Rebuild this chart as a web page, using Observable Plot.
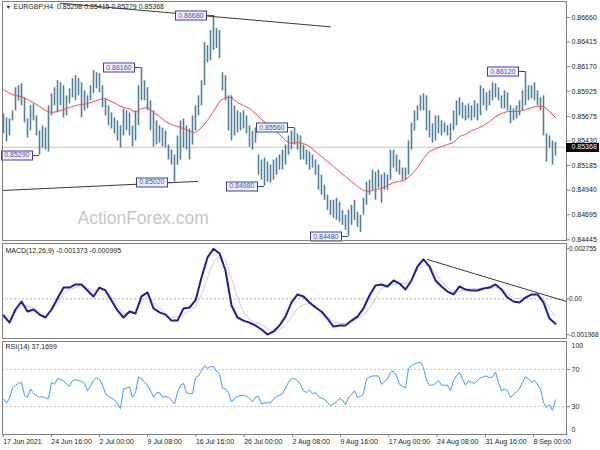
<!DOCTYPE html>
<html><head><meta charset="utf-8">
<script src="https://cdn.jsdelivr.net/npm/d3@7"></script>
<script src="https://cdn.jsdelivr.net/npm/@observablehq/plot@0.6"></script>
<style>
body{margin:0;background:#fff;}
#wrap{position:relative;width:600px;height:450px;overflow:hidden;background:#fff;}
#wrap svg{position:absolute;left:0;}
</style></head><body><div id="wrap"></div>
<script>
// ---------- data ----------
const symbol = "EURGBP,H4";
const lastOHLC = [0.85298, 0.85415, 0.85279, 0.85368];
const macdHeader = ["MACD(12,26,9)", -0.001373, -0.000995];
const rsiHeader = ["RSI(14)", 37.1699];

// H4 bars (one entry per two H4 bars)
const high = [
0.8570,0.8566,0.8565,0.8573,0.8596,0.8598,0.8600,0.8586,0.8565,0.8578,
0.8580,0.8568,0.8553,0.8558,0.8556,0.8578,0.8590,0.8596,0.8603,0.8601,
0.8598,0.8588,0.8595,0.8605,0.8608,0.8605,0.8601,0.8593,0.8588,0.8598,
0.8613,0.8611,0.8610,0.8598,0.8585,0.8578,0.8571,0.8566,0.8563,0.8558,
0.8575,0.8573,0.8571,0.8558,0.8573,0.8598,0.8616,0.8603,0.8596,0.8583,
0.8573,0.8563,0.8558,0.8556,0.8553,0.8539,0.8534,0.8529,0.8548,0.8563,
0.8565,0.8558,0.8555,0.8568,0.8578,0.8588,0.8603,0.8641,0.8638,0.8653,
0.8668,0.8655,0.8653,0.8611,0.8608,0.8588,0.8588,0.8578,0.8573,0.8571,
0.8573,0.8568,0.8558,0.8553,0.8556,0.8529,0.8524,0.8526,0.8522,0.8519,
0.8524,0.8526,0.8529,0.8534,0.8539,0.8548,0.8553,0.8556,0.8550,0.8548,
0.8539,0.8534,0.8532,0.8529,0.8524,0.8519,0.8509,0.8499,0.8489,0.8484,
0.8484,0.8486,0.8482,0.8474,0.8469,0.8474,0.8479,0.8484,0.8472,0.8469,
0.8486,0.8502,0.8504,0.8514,0.8512,0.8514,0.8509,0.8511,0.8509,0.8534,
0.8534,0.8529,0.8524,0.8516,0.8516,0.8543,0.8561,0.8573,0.8578,0.8588,
0.8590,0.8588,0.8573,0.8560,0.8568,0.8568,0.8563,0.8561,0.8558,0.8560,
0.8573,0.8583,0.8586,0.8581,0.8578,0.8580,0.8578,0.8583,0.8580,0.8598,
0.8595,0.8591,0.8593,0.8601,0.8600,0.8596,0.8588,0.8593,0.8591,0.8578,
0.8575,0.8578,0.8583,0.8593,0.8612,0.8598,0.8598,0.8601,0.8593,0.8586,
0.8588,0.8550,0.8548,0.8543,0.85415];
const low = [
0.8550,0.8542,0.8548,0.8563,0.8573,0.8583,0.8578,0.8561,0.8546,0.8553,
0.8563,0.8548,0.8529,0.8536,0.8534,0.8532,0.8568,0.8578,0.8571,0.8578,
0.8566,0.8568,0.8580,0.8586,0.8583,0.8588,0.8566,0.8573,0.8575,0.8583,
0.8590,0.8595,0.8591,0.8576,0.8568,0.8558,0.8555,0.8550,0.8543,0.8536,
0.8548,0.8553,0.8548,0.8537,0.8543,0.8558,0.8583,0.8583,0.8573,0.8553,
0.8537,0.8539,0.8541,0.8537,0.8536,0.8524,0.8519,0.8502,0.8519,0.8524,
0.8536,0.8534,0.8524,0.8539,0.8553,0.8568,0.8578,0.8598,0.8621,0.8623,
0.8633,0.8635,0.8625,0.8593,0.8583,0.8553,0.8543,0.8548,0.8551,0.8553,
0.8555,0.8550,0.8537,0.8534,0.8541,0.8509,0.8504,0.8498,0.8502,0.8501,
0.8504,0.8509,0.8514,0.8514,0.8519,0.8529,0.8534,0.8539,0.8534,0.8524,
0.8524,0.8519,0.8514,0.8516,0.8509,0.8494,0.8489,0.8484,0.8474,0.8469,
0.8466,0.8464,0.8462,0.8459,0.8454,0.8448,0.8459,0.8464,0.8457,0.8452,
0.8469,0.8479,0.8489,0.8494,0.8484,0.8496,0.8481,0.8494,0.8494,0.8504,
0.8516,0.8512,0.8509,0.8504,0.8504,0.8509,0.8534,0.8553,0.8563,0.8573,
0.8573,0.8553,0.8546,0.8541,0.8543,0.8550,0.8548,0.8551,0.8548,0.8543,
0.8553,0.8558,0.8568,0.8565,0.8563,0.8565,0.8563,0.8566,0.8563,0.8568,
0.8578,0.8573,0.8578,0.8583,0.8586,0.8583,0.8575,0.8575,0.8573,0.8560,
0.8563,0.8565,0.8568,0.8573,0.8578,0.8583,0.8585,0.8583,0.8578,0.8573,
0.8548,0.8522,0.8536,0.8519,0.85279];

// moving average (one value every 2 entries above)
const ma = [
0.85943,0.85903,0.85883,0.85873,0.85843,0.85813,0.85774,0.85734,0.85714,0.85724,
0.85744,0.85764,0.85784,0.85793,0.85803,0.85823,0.85843,0.85853,0.85823,0.85793,
0.85764,0.85754,0.85714,0.85754,0.85764,0.85714,0.85674,0.85624,0.85594,0.85574,
0.85554,0.85525,0.85515,0.85564,0.85634,0.85724,0.85823,0.85863,0.85863,0.85813,
0.85784,0.85754,0.85704,0.85644,0.85594,0.85554,0.85495,0.85435,0.85405,0.85415,
0.85405,0.85375,0.85325,0.85276,0.85226,0.85176,0.85126,0.85076,0.85027,0.84977,
0.84937,0.84927,0.84947,0.84957,0.84987,0.85017,0.85027,0.85046,0.85096,0.85166,
0.85256,0.85325,0.85355,0.85375,0.85395,0.85415,0.85475,0.85495,0.85535,0.85554,
0.85584,0.85624,0.85674,0.85704,0.85724,0.85724,0.85724,0.85744,0.85764,0.85774,
0.85774,0.85724,0.85664];

const macd = [
-0.00092,-0.00131,-0.00059,-0.00015,-0.00070,-0.00059,-0.00087,-0.00103,-0.00059,0.00002,
0.00062,0.00062,0.00079,0.00079,0.00046,0.00013,0.00062,0.00046,-0.00009,-0.00064,
-0.00103,-0.00070,-0.00081,0.00013,0.00035,-0.00053,-0.00075,-0.00087,-0.00120,-0.00120,
-0.00053,-0.00048,-0.00009,0.00117,0.00228,0.002755,0.00250,0.00156,-0.00037,-0.00103,
-0.00120,-0.00131,-0.00147,-0.00169,-0.001968,-0.00180,-0.00147,-0.00098,-0.00020,0.00024,
0.00013,-0.00020,-0.00048,-0.00070,-0.00109,-0.00153,-0.00147,-0.00147,-0.00120,-0.00098,
-0.00053,0.00018,0.00073,0.00079,0.00068,0.00101,0.00084,0.00051,0.00101,0.00178,
0.00217,0.00178,0.00101,0.00068,0.00040,0.00024,0.00068,0.00051,0.00046,0.00046,
0.00057,0.00062,0.00079,0.00051,0.00007,-0.00015,-0.00020,0.00007,0.00024,0.00024,
-0.00020,-0.00109,-0.001373];
const signal = [
-0.00081,-0.00103,-0.00075,-0.00037,-0.00042,-0.00048,-0.00075,-0.00092,-0.00064,-0.00020,
0.00024,0.00051,0.00062,0.00073,0.00057,0.00046,0.00051,0.00046,0.00007,-0.00037,
-0.00081,-0.00081,-0.00059,-0.00020,0.00018,-0.00015,-0.00048,-0.00081,-0.00103,-0.00098,
-0.00087,-0.00064,-0.00042,0.00024,0.00117,0.00200,0.00239,0.00217,0.00112,0.00007,
-0.00075,-0.00114,-0.00131,-0.00142,-0.00164,-0.00186,-0.00169,-0.00147,-0.00098,-0.00053,
-0.00031,-0.00026,-0.00037,-0.00081,-0.00103,-0.00125,-0.00136,-0.00136,-0.00131,-0.00109,
-0.00087,-0.00053,0.00002,0.00057,0.00068,0.00079,0.00084,0.00084,0.00106,0.00161,
0.00183,0.00183,0.00145,0.00095,0.00062,0.00029,0.00040,0.00051,0.00057,0.00057,
0.00057,0.00057,0.00062,0.00057,0.00029,0.00002,0.00002,0.00007,0.00018,0.00024,
0.00002,-0.00053,-0.000995];

const rsi = [
38,34,39,50,53,55,56,42,40,49,
44,42,40,41,39,39,56,54,60,59,
58,54,52,58,59,58,57,55,47,52,
58,61,59,53,44,41,39,37,33,28,
49,50,51,40,45,62,60,56,53,47,
40,45,45,40,41,40,37,33,45,53,
55,45,44,44,61,63,69,74,71,73,
73,68,65,50,49,45,35,39,41,42,
42,41,39,35,40,41,33,34,34,34,
38,41,42,44,50,56,60,60,58,54,
47,45,48,44,45,41,39,38,34,31,
33,35,39,37,32,40,43,47,40,41,
44,60,62,63,63,63,54,57,60,67,
68,63,54,52,50,71,74,76,77,78,
72,58,53,53,55,58,53,53,53,47,
58,63,67,60,53,58,56,55,58,61,
62,63,61,62,67,56,47,49,47,40,
43,46,49,56,62,60,56,58,54,49,
34,29,32,26,37.1699];

// marked highs / lows (bar index, price)
const extremes = [
  {i: 46, p: 0.86160}, {i: 70, p: 0.86680}, {i: 12, p: 0.85290}, {i: 57, p: 0.85020},
  {i: 87, p: 0.84980}, {i: 97, p: 0.85560}, {i: 115, p: 0.84480}, {i: 174, p: 0.86120}
];
// trend lines (bar index, value)
const trendTop = [{i: 19, p: 0.86802}, {i: 109, p: 0.86567}];
const trendLow = [{i: -0.33, p: 0.84937}, {i: 64.67, p: 0.85027}];
const macdTrend = [{i: 141.3, v: 0.002165}, {i: 187.67, v: -0.000149}];

// axis ticks
const priceTicks = [0.86660,0.86415,0.86170,0.85925,0.85675,0.85430,0.85185,0.84940,0.84695,0.84445];
const macdTicks = [0.002755, 0, -0.001968];
const rsiTicks = [70, 30];
const rsiEdgeTop = [100], rsiEdgeBottom = [0];
const xTickPos = [-0.43,15.6,31.7,47.7,63.8,79.9,96.0,112.0,128.1,144.2,160.3,176.3];
const xTickLabels = ["17 Jun 2021","24 Jun 16:00","2 Jul 00:00","9 Jul 08:00","16 Jul 16:00","26 Jul 00:00",
  "2 Aug 08:00","9 Aug 16:00","17 Aug 00:00","24 Aug 08:00","31 Aug 16:00","8 Sep 00:00"];

// ---------- build ----------
const bars = high.map((h, i) => ({i, high: h, low: low[i]}));
const every2 = arr => arr.map((v, k) => ({i: 2 * k, v}));
const maData = every2(ma), macdData = every2(macd), sigData = every2(signal);
const rsiData = rsi.map((v, i) => ({i, v}));
const xLabel = new Map(xTickPos.map((p, k) => [p, xTickLabels[k]]));
const lastPrice = lastOHLC[3];

const STYLE = "font-family:'Liberation Sans',Arial,sans-serif;font-size:7px;background:white;overflow:hidden;";
const W = 600, ML = 2, MR = 34;
const xDomain = [-0.3333, 187.667];
const FRAME = "#808080", TXT = "#222222";
const LABEL_FILL = "#4747c8", LAST_FILL = "#fffffe";

const wrap = document.getElementById("wrap");

const main = Plot.plot({
  width: W, height: 243, marginLeft: ML, marginRight: MR, marginTop: 1, marginBottom: 3,
  style: STYLE,
  x: {domain: xDomain, axis: null, label: null},
  y: {domain: [0.844389, 0.868194], axis: null, label: null},
  marks: [
    Plot.text(["ActionForex.com"], {frameAnchor: "bottom-left", dx: 75, dy: -22, lineAnchor: "middle", fontSize: 17.5, fill: "#c6c6c6"}),
    Plot.ruleY([lastPrice], {stroke: "#c4c4c4"}),
    Plot.ruleX(bars, {x: "i", y1: "low", y2: "high", stroke: "#527f98", strokeWidth: 1.6}),
    Plot.line(maData, {x: "i", y: "v", stroke: "#ff4a4a", strokeWidth: 1}),
    Plot.line(trendTop, {x: "i", y: "p", stroke: "#3a3a3a", strokeWidth: 1}),
    Plot.line(trendLow, {x: "i", y: "p", stroke: "#3a3a3a", strokeWidth: 1}),
    Plot.text(extremes, {x: "i", y: "p", text: d => d.p.toFixed(5), textAnchor: "end", dx: -10, fill: LABEL_FILL}),
    Plot.frame({stroke: FRAME}),
    Plot.axisY({anchor: "right", label: null, ticks: priceTicks, tickFormat: d => d.toFixed(5), tickSize: 3, tickPadding: 2, stroke: FRAME, fill: TXT}),
    Plot.text([lastPrice], {y: d => d, frameAnchor: "right", dx: 5, textAnchor: "start", fill: LAST_FILL, text: d => d.toFixed(5)}),
    Plot.text(["\u25BC"], {frameAnchor: "top-left", dx: 3, dy: 3.5, fontSize: 5.5, fill: TXT}),
    Plot.text([symbol + "\u00a0\u00a0" + lastOHLC.map(v => v.toFixed(5)).join(" ")], {frameAnchor: "top-left", dx: 11, dy: 2.5, fill: TXT})
  ]
});
main.style.top = "0px";
wrap.appendChild(main);

const macdPlot = Plot.plot({
  width: W, height: 96, marginLeft: ML, marginRight: MR, marginTop: 0, marginBottom: 1,
  style: STYLE,
  x: {domain: xDomain, axis: null, label: null},
  y: {domain: [-0.002187, 0.003047], axis: null, label: null},
  marks: [
    Plot.ruleY([0], {stroke: "#b4b4b4", strokeDasharray: "2,2"}),
    Plot.line(sigData, {x: "i", y: "v", stroke: "#cfcfcf", strokeWidth: 1}),
    Plot.line(macdData, {x: "i", y: "v", stroke: "#1d1da6", strokeWidth: 2}),
    Plot.line(macdTrend, {x: "i", y: "v", stroke: "#3a3a3a", strokeWidth: 1}),
    Plot.frame({stroke: FRAME}),
    Plot.axisY({anchor: "right", label: null, ticks: macdTicks, tickFormat: d => d === 0 ? "0.00" : d.toFixed(6), tickSize: 2, tickPadding: 0.5, fontSize: 6.6, stroke: FRAME, fill: TXT}),
    Plot.text([macdHeader[0] + " " + macdHeader[1].toFixed(6) + " " + macdHeader[2].toFixed(6)], {frameAnchor: "top-left", dx: 3, dy: 5, fill: TXT})
  ]
});
macdPlot.style.top = "243px";
wrap.appendChild(macdPlot);

const rsiPlot = Plot.plot({
  width: W, height: 111, marginLeft: ML, marginRight: MR, marginTop: 2, marginBottom: 16,
  style: STYLE,
  x: {domain: xDomain, axis: null, label: null},
  y: {domain: [0, 100], axis: null, label: null},
  marks: [
    Plot.ruleY(rsiTicks, {stroke: "#c4c4c4", strokeDasharray: "2,2"}),
    Plot.line(rsiData, {x: "i", y: "v", stroke: "#3d9cff", strokeWidth: 1}),
    Plot.frame({stroke: FRAME}),
    Plot.axisY({anchor: "right", label: null, ticks: rsiTicks, tickSize: 3, tickPadding: 2, stroke: FRAME, fill: TXT}),
    Plot.text(rsiEdgeTop, {y: d => d, frameAnchor: "right", dx: 5, dy: 4, textAnchor: "start", fill: TXT}),
    Plot.text(rsiEdgeBottom, {y: d => d, frameAnchor: "right", dx: 5, dy: -5, textAnchor: "start", fill: TXT}),
    Plot.axisX({anchor: "bottom", label: null, ticks: xTickPos, tickFormat: d => xLabel.get(d), tickSize: 3, tickPadding: 2, textAnchor: "start", dx: 1, stroke: FRAME, fill: TXT}),
    Plot.text([rsiHeader[0] + " " + rsiHeader[1]], {frameAnchor: "top-left", dx: 3, dy: 3, fill: TXT})
  ]
});
rsiPlot.style.top = "339px";
wrap.appendChild(rsiPlot);

// ---------- label boxes (placed with the plot's own scales) ----------
const NS = "http://www.w3.org/2000/svg";
function el(name, attrs, parent, before) {
  const e = document.createElementNS(NS, name);
  for (const k in attrs) e.setAttribute(k, attrs[k]);
  if (before) parent.insertBefore(e, before); else parent.appendChild(e);
  return e;
}
function groupWithFill(svg, fill) {
  return Array.from(svg.querySelectorAll("g")).find(g => (g.getAttribute("fill") || "").toLowerCase() === fill);
}
(function decorate() {
  const sb = main.getBoundingClientRect();
  const xs = main.scale("x"), ys = main.scale("y");
  const g = groupWithFill(main, LABEL_FILL);
  if (g) {
    const deco = el("g", {}, g.parentNode, g);
    g.querySelectorAll("text").forEach((t, k) => {
      const d = extremes[k];
      const r = t.getBoundingClientRect();
      const yc = Math.round(ys.apply(d.p)) + 0.5;
      const x0 = Math.floor(r.left - sb.left - 3) + 0.5;
      const x1 = Math.ceil(r.right - sb.left + 3) - 0.5;
      el("rect", {x: x0, y: yc - 4.5, width: x1 - x0, height: 9, fill: "#f3f3ff", stroke: "#3c3cb0"}, deco);
      el("line", {x1: x1, x2: xs.apply(d.i), y1: yc, y2: yc, stroke: "#3c3cb0"}, deco);
    });
  }
  const lg = groupWithFill(main, LAST_FILL);
  if (lg) {
    const lt = lg.querySelector("text");
    const r = lt.getBoundingClientRect();
    const yc = Math.round(ys.apply(lastPrice)) + 0.5;
    el("rect", {x: W - MR, y: yc - 4.5, width: Math.ceil(r.right - sb.left + 2) - (W - MR), height: 9, fill: "#000"}, lg.parentNode, lg);
  }
})();
</script>
</body></html>
